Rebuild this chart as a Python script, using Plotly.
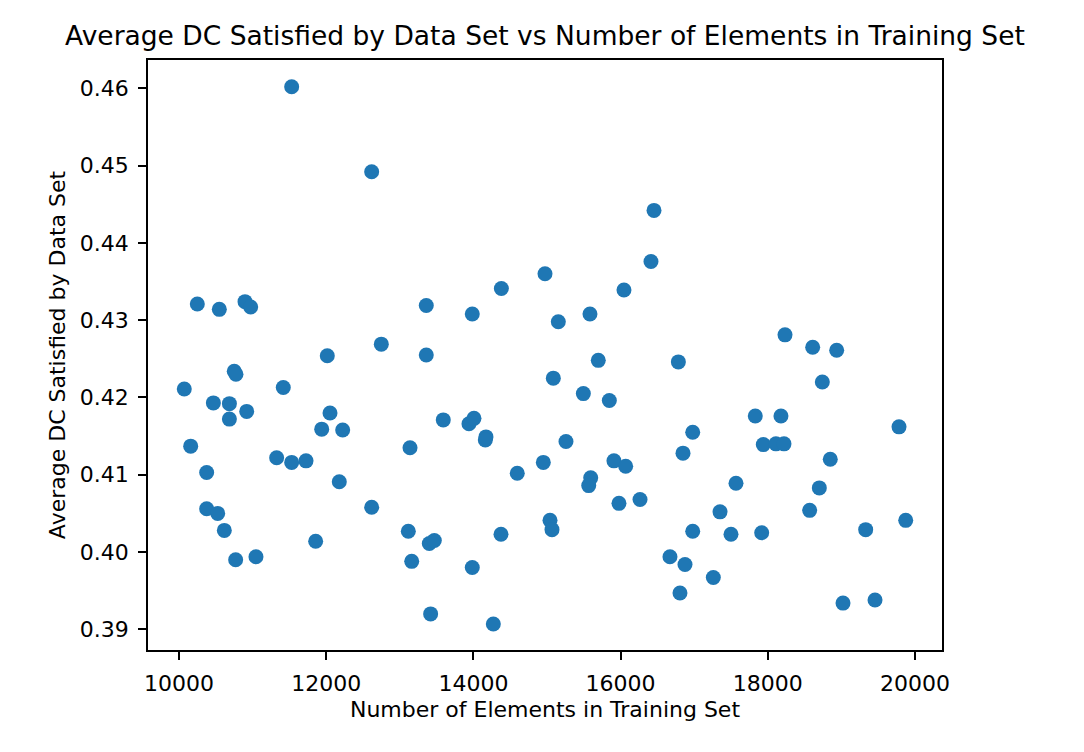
import plotly.graph_objects as go

elements = [
    11531, 12618, 10249, 10548, 10897, 10974, 12015, 12749, 13360, 10751,
    10774, 10072, 11417, 10467, 10685, 10920, 10685, 12052, 11939, 12224,
    13139, 10159, 11327, 11531, 11726, 10376, 12178, 10376, 10526, 12618,
    10616, 13116, 11857, 10770, 11046, 13162, 16454, 16413, 14973, 14380,
    16046, 13360, 13985, 15584, 15154, 15697, 16785, 15086, 15494, 15847,
    13591, 13940, 14008, 14171, 14162, 15258, 16848, 14950, 14596, 15910,
    16069, 15594, 15567, 16264, 15978, 15041, 15068, 14375, 13401, 13469,
    13985, 16671, 16875, 16807, 13419, 14271, 18234, 18610, 18936, 18741,
    17830, 18179, 19783, 16980, 17939, 18111, 18220, 18849, 17568, 18700,
    17351, 18569, 19874, 16980, 17500, 17917, 19330, 17260, 19022, 19457,
]
avg_dc = [
    0.4602, 0.4492, 0.4321, 0.4314, 0.4324, 0.4317, 0.4254, 0.4269, 0.4255, 0.4234,
    0.4230, 0.4211, 0.4213, 0.4193, 0.4192, 0.4182, 0.4172, 0.4180, 0.4159, 0.4158,
    0.4135, 0.4137, 0.4122, 0.4116, 0.4118, 0.4103, 0.4091, 0.4056, 0.4050, 0.4058,
    0.4028, 0.4027, 0.4014, 0.3990, 0.3994, 0.3988, 0.4442, 0.4376, 0.4360, 0.4341,
    0.4339, 0.4319, 0.4308, 0.4308, 0.4298, 0.4248, 0.4246, 0.4225, 0.4205, 0.4196,
    0.4171, 0.4166, 0.4173, 0.4149, 0.4145, 0.4143, 0.4128, 0.4116, 0.4102, 0.4118,
    0.4111, 0.4096, 0.4086, 0.4068, 0.4063, 0.4041, 0.4029, 0.4023, 0.4011, 0.4015,
    0.3980, 0.3994, 0.3984, 0.3947, 0.3920, 0.3907, 0.4281, 0.4265, 0.4261, 0.4220,
    0.4176, 0.4176, 0.4162, 0.4155, 0.4139, 0.4140, 0.4140, 0.4120, 0.4089, 0.4083,
    0.4052, 0.4054, 0.4041, 0.4027, 0.4023, 0.4025, 0.4029, 0.3967, 0.3934, 0.3938,
]
x_ticks = [10000, 12000, 14000, 16000, 18000, 20000]
y_ticks = [0.39, 0.40, 0.41, 0.42, 0.43, 0.44, 0.45, 0.46]

FONT = "DejaVu Sans"
TXT = "#000000"

fig = go.Figure()
fig.add_trace(go.Scatter(
    x=elements, y=avg_dc, mode="markers",
    marker=dict(size=15, color="#1f77b4", line=dict(width=0)),
    showlegend=False,
))

axis_common = dict(
    showgrid=False, zeroline=False, showline=True, mirror=True,
    linecolor="black", linewidth=1.8, ticks="outside", ticklen=8,
    tickwidth=1.8, tickcolor="black", ticklabelstandoff=5,
    tickfont=dict(family=FONT, size=22, color=TXT),
)

fig.update_layout(
    width=1084, height=752,
    paper_bgcolor="white", plot_bgcolor="white",
    margin=dict(l=140, r=150, t=52, b=110),
    font=dict(family=FONT, color=TXT),
    title=dict(
        text="Average DC Satisfied by Data Set vs Number of Elements in Training Set",
        x=0.5, xref="paper", xanchor="center",
        y=1 - 28 / 752, yref="container", yanchor="middle",
        font=dict(family=FONT, size=26.5, color=TXT),
    ),
    xaxis=dict(
        range=[9579, 20367], tickvals=x_ticks,
        ticktext=[str(v) for v in x_ticks],
        title=dict(text="Number of Elements in Training Set",
                   font=dict(family=FONT, size=22, color=TXT), standoff=6),
        **axis_common,
    ),
    yaxis=dict(
        range=[0.38733, 0.46366], tickvals=y_ticks,
        ticktext=[f"{v:.2f}" for v in y_ticks],
        title=dict(text="Average DC Satisfied by Data Set",
                   font=dict(family=FONT, size=22, color=TXT), standoff=8),
        **axis_common,
    ),
)

fig.write_html("out.html")
